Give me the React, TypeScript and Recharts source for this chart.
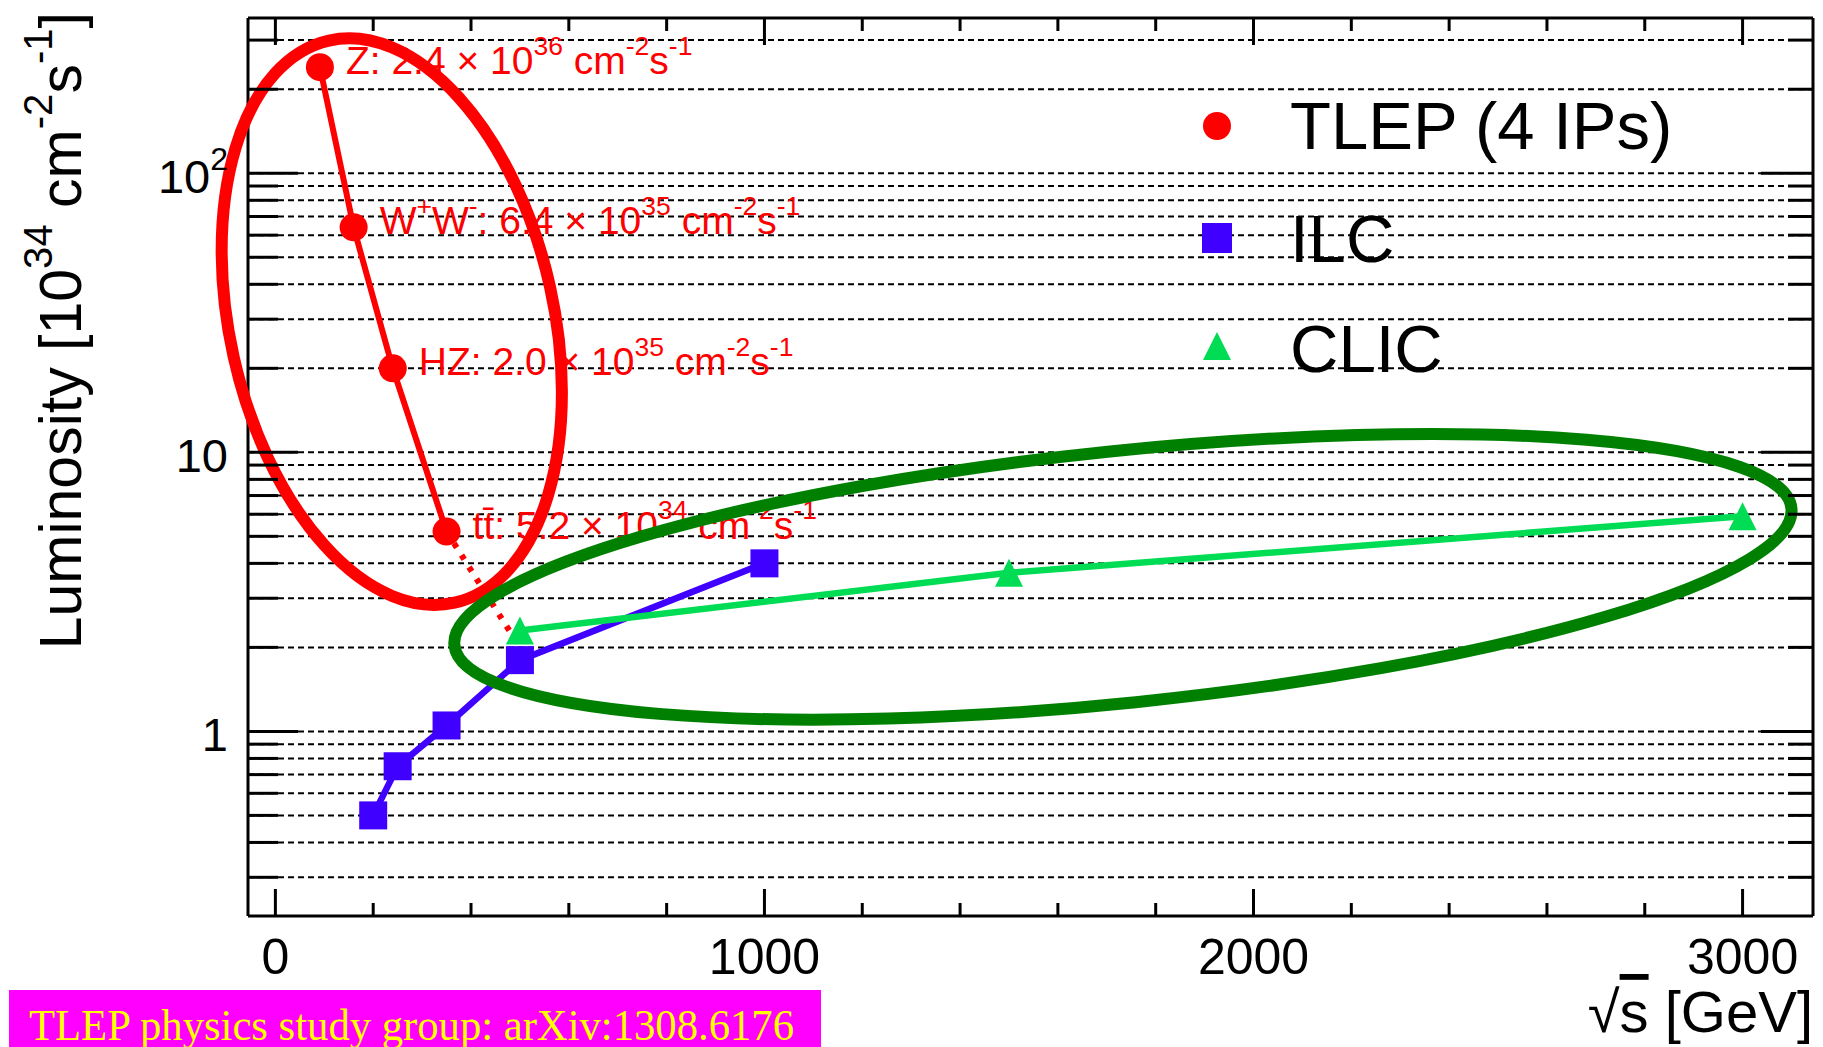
import React from 'react'
import { ScatterChart, Scatter, XAxis, YAxis, CartesianGrid, ReferenceDot, Legend } from 'recharts'

const FONT = '"Liberation Sans", Arial, Helvetica, sans-serif'

// TLEP (4 IPs)
const tlepEnergy = [91, 160, 240, 350]
const tlepLumi = [240, 64, 20, 5.2]
const tlepLabels = [
  'Z: 2.4 × 10^{36} cm^{-2}s^{-1}',
  'W^{+}W^{-}: 6.4 × 10^{35} cm^{-2}s^{-1}',
  'HZ: 2.0 × 10^{35} cm^{-2}s^{-1}',
  'tt\u0304: 5.2 × 10^{34} cm^{-2}s^{-1}',
]
// dotted extrapolation of TLEP
const tlepExtEnergy = [350, 500]
const tlepExtLumi = [5.2, 2.0]

// ILC
const ilcEnergy = [200, 250, 350, 500, 1000]
const ilcLumi = [0.5, 0.75, 1.05, 1.8, 4.0]

// CLIC
const clicEnergy = [500, 1500, 3000]
const clicLumi = [2.3, 3.7, 5.9]

const legendNames = ['TLEP (4 IPs)', 'ILC', 'CLIC']

// axes
const xTicks = [0, 200, 400, 600, 800, 1000, 1200, 1400, 1600, 1800, 2000, 2200, 2400, 2600, 2800, 3000]
const xMajor = [0, 1000, 2000, 3000]
const yTicks = [
  0.3, 0.4, 0.5, 0.6, 0.7, 0.8, 0.9,
  1, 2, 3, 4, 5, 6, 7, 8, 9,
  10, 20, 30, 40, 50, 60, 70, 80, 90,
  100, 200, 300,
]
const yMajor = [1, 10, 100]
const yMajorLabels = ['1', '10', '10^{2}']

// highlight ellipses (centre in data units)
const ellipses = [
  { x: 238, y: 29.4, rx: 162, ry: 288, angle: -12.6, color: '#ff0000' },
  { x: 1733, y: 3.58, rx: 672, ry: 126, angle: -5.85, color: '#008000' },
]

const RED = '#ff0000'
const BLUE = '#4000ff'
const GREEN = '#00dd55'

const tlepData = tlepEnergy.map((x, i) => ({ x, y: tlepLumi[i], label: tlepLabels[i] }))
const tlepExtData = tlepExtEnergy.map((x, i) => ({ x, y: tlepExtLumi[i] }))
const ilcData = ilcEnergy.map((x, i) => ({ x, y: ilcLumi[i] }))
const clicData = clicEnergy.map((x, i) => ({ x, y: clicLumi[i] }))

function texParts(s: string) {
  const parts: { text: string; sup: boolean }[] = []
  const re = /\^\{([^}]*)\}/g
  let last = 0
  let m: RegExpExecArray | null
  while ((m = re.exec(s))) {
    if (m.index > last) parts.push({ text: s.slice(last, m.index), sup: false })
    parts.push({ text: m[1], sup: true })
    last = re.lastIndex
  }
  if (last < s.length) parts.push({ text: s.slice(last), sup: false })
  return parts
}

function tex(s: string, fs: number) {
  let prevSup = false
  const shift = 0.5 * fs
  return texParts(s).map((p, i) => {
    let dy = 0
    if (p.sup && !prevSup) dy = -shift
    if (!p.sup && prevSup) dy = shift
    prevSup = p.sup
    return (
      <tspan key={i} dy={dy} fontSize={p.sup ? fs * 0.68 : fs} style={{ whiteSpace: 'pre' }}>
        {p.text}
      </tspan>
    )
  })
}

const LeftTick = (props: any) => {
  const { x, y, payload } = props
  const idx = yMajor.indexOf(payload.value)
  const major = idx >= 0
  return (
    <g>
      <line x1={x} x2={x + (major ? 50 : 30)} y1={y} y2={y} stroke="#000" strokeWidth={3} />
      {major && (
        <text x={x - 20} y={y + 20} textAnchor="end" fontFamily={FONT} fill="#000">
          {tex(yMajorLabels[idx], 47)}
        </text>
      )}
    </g>
  )
}

const RightTick = (props: any) => {
  const { x, y, payload } = props
  const major = yMajor.includes(payload.value)
  return <line x1={x} x2={x - (major ? 52 : 25)} y1={y} y2={y} stroke="#000" strokeWidth={3} />
}

const BottomTick = (props: any) => {
  const { x, y, payload } = props
  const major = xMajor.includes(payload.value)
  return (
    <g>
      <line x1={x} x2={x} y1={y} y2={y - (major ? 27 : 13)} stroke="#000" strokeWidth={3} />
      {major && (
        <text x={x} y={y + 58} textAnchor="middle" fontSize={50} fontFamily={FONT} fill="#000">
          {payload.value}
        </text>
      )}
    </g>
  )
}

const TopTick = (props: any) => {
  const { x, y, payload } = props
  const major = xMajor.includes(payload.value)
  return <line x1={x} x2={x} y1={y} y2={y + (major ? 27 : 13)} stroke="#000" strokeWidth={3} />
}

const TlepShape = (props: any) => {
  const { cx, cy, payload } = props
  return (
    <g>
      <circle cx={cx} cy={cy} r={14} fill={RED} />
      <text x={cx + 26} y={cy + 7} fill={RED} fontFamily={FONT}>
        {tex(payload.label, 39)}
      </text>
    </g>
  )
}

const SquareShape = (props: any) => {
  const { cx, cy } = props
  return <rect x={cx - 14} y={cy - 14} width={28} height={28} fill={BLUE} />
}

const TriangleShape = (props: any) => {
  const { cx, cy } = props
  return <polygon points={`${cx},${cy - 14} ${cx + 14},${cy + 14} ${cx - 14},${cy + 14}`} fill={GREEN} />
}

const NoShape = () => <g />

const LegendBox = () => (
  <svg width={560} height={340}>
    <circle cx={27} cy={66} r={14} fill={RED} />
    <rect x={12} y={163} width={30} height={30} fill={BLUE} />
    <polygon points="27,272 41,300 13,300" fill={GREEN} />
    {legendNames.map((n, i) => (
      <text key={n} x={100} y={[89, 202, 312][i]} fontSize={67} fontFamily={FONT} fill="#000">
        {n}
      </text>
    ))}
  </svg>
)

const YTitle = () => (
  <text x={81} y={12} transform="rotate(-90, 81, 12)" textAnchor="end" fontFamily={FONT} fill="#000">
    {tex('Luminosity [10^{34} cm^{-2}s^{-1}]', 59)}
  </text>
)

const XTitle = (props: any) => {
  const vb = props.viewBox || { x: 248, y: 916, width: 1565 }
  return (
    <text x={vb.x + vb.width} y={vb.y + 116} textAnchor="end" fontSize={58} fontFamily={FONT} fill="#000">
      √<tspan style={{ textDecoration: 'overline' }}>s</tspan> [GeV]
    </text>
  )
}

export default function App() {
  return (
    <div style={{ position: 'absolute', left: 0, top: 0, width: 1823, height: 1047, background: '#fff' }}>
      <ScatterChart width={1823} height={1047} margin={{ top: 17, right: 9, bottom: 0, left: 0 }}>
        <CartesianGrid vertical={false} stroke="#000" strokeWidth={2} strokeDasharray="6 4" />
        <XAxis
          type="number"
          dataKey="x"
          domain={[-56, 3144]}
          allowDataOverflow
          ticks={xTicks}
          interval={0}
          height={131}
          tickSize={0}
          tickMargin={0}
          tickLine={false}
          axisLine={{ stroke: '#000', strokeWidth: 3 }}
          tick={BottomTick}
          label={<XTitle />}
        />
        <XAxis
          xAxisId="top"
          orientation="top"
          type="number"
          dataKey="x"
          domain={[-56, 3144]}
          allowDataOverflow
          ticks={xTicks}
          interval={0}
          height={1}
          tickSize={0}
          tickMargin={0}
          tickLine={false}
          axisLine={{ stroke: '#000', strokeWidth: 3 }}
          tick={TopTick}
        />
        <YAxis
          type="number"
          dataKey="y"
          scale="log"
          domain={[0.218, 360]}
          allowDataOverflow
          ticks={yTicks}
          interval={0}
          width={248}
          tickSize={0}
          tickMargin={0}
          tickLine={false}
          axisLine={{ stroke: '#000', strokeWidth: 3 }}
          tick={LeftTick}
          label={<YTitle />}
        />
        <YAxis
          yAxisId="right"
          orientation="right"
          type="number"
          dataKey="y"
          scale="log"
          domain={[0.218, 360]}
          allowDataOverflow
          ticks={yTicks}
          interval={0}
          width={1}
          tickSize={0}
          tickMargin={0}
          tickLine={false}
          axisLine={{ stroke: '#000', strokeWidth: 3 }}
          tick={RightTick}
        />
        <Scatter
          data={tlepExtData}
          line={{ stroke: RED, strokeWidth: 6, strokeDasharray: '5 9' }}
          shape={NoShape}
          isAnimationActive={false}
        />
        <Scatter data={tlepData} line={{ stroke: RED, strokeWidth: 6 }} shape={TlepShape} isAnimationActive={false} />
        <Scatter data={ilcData} line={{ stroke: BLUE, strokeWidth: 6.5 }} shape={SquareShape} isAnimationActive={false} />
        <Scatter data={clicData} line={{ stroke: GREEN, strokeWidth: 6.5 }} shape={TriangleShape} isAnimationActive={false} />
        {/* invisible copy bound to the mirrored frame axes */}
        <Scatter xAxisId="top" yAxisId="right" data={clicData} shape={NoShape} isAnimationActive={false} legendType="none" />
        {ellipses.map((e, i) => (
          <ReferenceDot
            key={i}
            x={e.x}
            y={e.y}
            ifOverflow="visible"
            shape={(p: any) => (
              <ellipse
                cx={p.cx}
                cy={p.cy}
                rx={e.rx}
                ry={e.ry}
                fill="none"
                stroke={e.color}
                strokeWidth={12}
                transform={`rotate(${e.angle} ${p.cx} ${p.cy})`}
              />
            )}
          />
        ))}
        <Legend
          layout="vertical"
          align="center"
          verticalAlign="middle"
          content={() => <LegendBox />}
          wrapperStyle={{ position: 'absolute', left: 1190, top: 60, width: 560, height: 340 }}
        />
      </ScatterChart>
      <div style={{ position: 'absolute', left: 9, top: 990, width: 812, height: 57, background: '#ff00ff' }}>
        <svg width={812} height={57}>
          <text
            x={20}
            y={50}
            fontSize={45}
            textLength={765}
            lengthAdjust="spacingAndGlyphs"
            fontFamily='"Liberation Serif", "Times New Roman", serif'
            fill="#ffff00"
          >
            TLEP physics study group: arXiv:1308.6176
          </text>
        </svg>
      </div>
    </div>
  )
}
